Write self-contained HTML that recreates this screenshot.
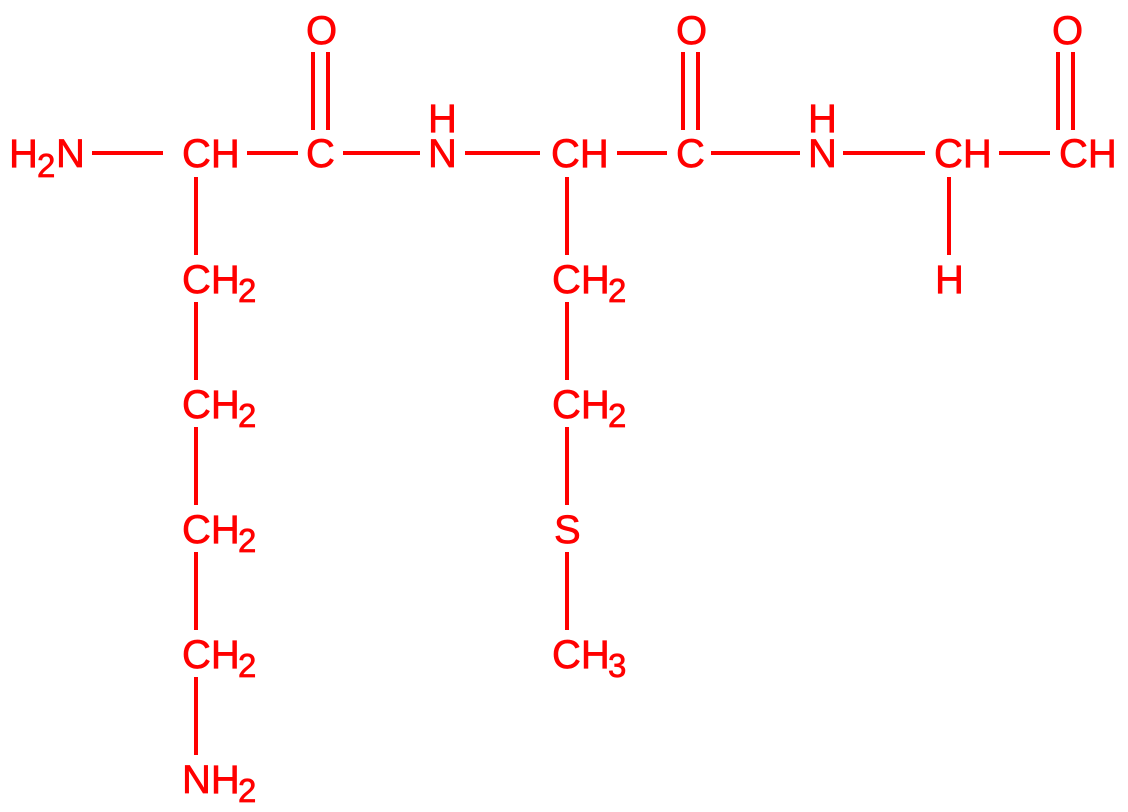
<!DOCTYPE html>
<html><head><style>
html,body{margin:0;padding:0;background:#fff;}
svg{display:block;}
text{font-family:"Liberation Sans",Arial,sans-serif;fill:#f00;stroke:#f00;stroke-width:0.7;font-size:40px;}
.s{font-size:33px;}
</style></head><body>
<svg width="1128" height="812" viewBox="0 0 1128 812" xmlns="http://www.w3.org/2000/svg">
<g stroke="#f00" stroke-width="4" fill="none">
<line x1="92" y1="153" x2="163" y2="153"/>
<line x1="247" y1="153" x2="298" y2="153"/>
<line x1="343" y1="153" x2="420" y2="153"/>
<line x1="465" y1="153" x2="540" y2="153"/>
<line x1="617" y1="153" x2="667" y2="153"/>
<line x1="711" y1="153" x2="800" y2="153"/>
<line x1="843" y1="153" x2="925" y2="153"/>
<line x1="999" y1="153" x2="1050" y2="153"/>
<line x1="313" y1="52" x2="313" y2="130"/><line x1="328" y1="52" x2="328" y2="130"/>
<line x1="683" y1="52" x2="683" y2="130"/><line x1="698" y1="52" x2="698" y2="130"/>
<line x1="1058" y1="52" x2="1058" y2="130"/><line x1="1073" y1="52" x2="1073" y2="130"/>
<line x1="196" y1="177" x2="196" y2="255"/>
<line x1="196" y1="302" x2="196" y2="380"/>
<line x1="196" y1="427" x2="196" y2="505"/>
<line x1="196" y1="552" x2="196" y2="630"/>
<line x1="196" y1="677" x2="196" y2="755"/>
<line x1="567" y1="177" x2="567" y2="255"/>
<line x1="567" y1="302" x2="567" y2="380"/>
<line x1="567" y1="427" x2="567" y2="505"/>
<line x1="567" y1="552" x2="567" y2="630"/>
<line x1="949" y1="177" x2="949" y2="255"/>
</g>
<text x="9" y="167">H</text><text class="s" x="37" y="177">2</text><text x="56" y="167">N</text>
<text x="182" y="167">CH</text>
<text x="306" y="167">C</text>
<text x="306" y="44">O</text>
<text x="428" y="167">N</text><text x="428" y="132">H</text>
<text x="551" y="167">CH</text>
<text x="676" y="167">C</text>
<text x="676" y="44">O</text>
<text x="808" y="167">N</text><text x="808" y="132">H</text>
<text x="934" y="167">CH</text>
<text x="1059" y="167">CH</text>
<text x="1052" y="44">O</text>
<text x="935" y="293">H</text>
<text x="182" y="293">CH</text><text class="s" x="238" y="302">2</text>
<text x="182" y="418">CH</text><text class="s" x="238" y="427">2</text>
<text x="182" y="543">CH</text><text class="s" x="238" y="552">2</text>
<text x="182" y="668">CH</text><text class="s" x="238" y="677">2</text>
<text x="182" y="793">NH</text><text class="s" x="238" y="802">2</text>
<text x="552" y="293">CH</text><text class="s" x="608" y="302">2</text>
<text x="552" y="418">CH</text><text class="s" x="608" y="427">2</text>
<text x="554" y="543">S</text>
<text x="552" y="668">CH</text><text class="s" x="608" y="677">3</text>
</svg>
</body></html>
